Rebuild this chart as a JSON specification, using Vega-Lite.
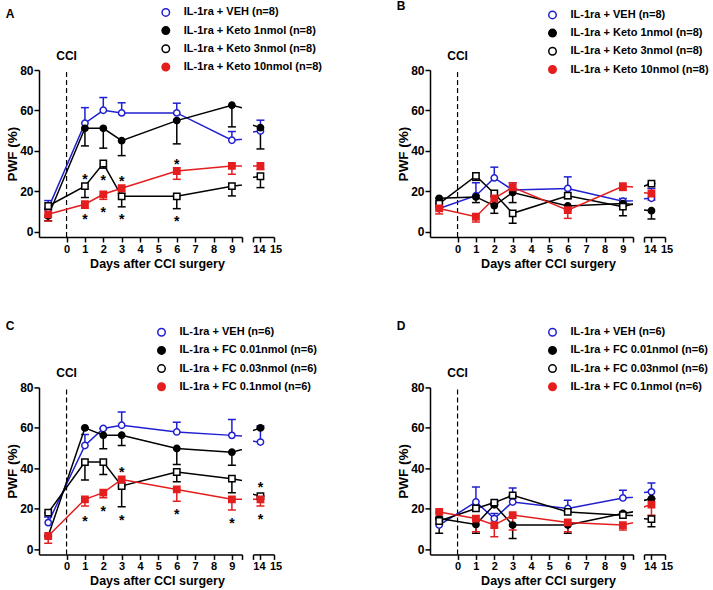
{
  "$schema": "https://vega.github.io/schema/vega-lite/v6.json",
  "background": "white",
  "padding": {"left": 5, "top": 0, "right": 2, "bottom": 2},
  "config": {
    "view": {"stroke": null},
    "font": "Liberation Sans",
    "axis": {"domainColor": "black", "domainWidth": 1.5, "tickColor": "black", "tickWidth": 1.5, "tickSize": 5, "labelFont": "Liberation Sans", "labelFontWeight": "bold", "labelFontSize": 12, "labelColor": "black", "labelPadding": 1, "titleFont": "Liberation Sans", "titleFontWeight": "bold", "titleFontSize": 13.5, "titleColor": "black", "grid": false},
    "axisX": {"titlePadding": 3, "labelFontSize": 11, "titleFontSize": 12.5},
    "axisY": {"titlePadding": 0},
    "legend": {"labelFont": "Liberation Sans", "labelFontWeight": "bold", "labelFontSize": 11, "labelColor": "black", "symbolSize": 56, "symbolStrokeWidth": 1.5, "labelOffset": 12.5, "rowPadding": 3.2, "padding": 0, "labelLimit": 300},
    "title": {"font": "Liberation Sans", "fontWeight": "bold", "fontSize": 12, "color": "black"}
  },
  "datasets": {
    "A": [
      {"series": "IL-1ra + VEH (n=8)", "day": -1, "pwf": 11.5, "err": 15.5},
      {"series": "IL-1ra + VEH (n=8)", "day": 1, "pwf": 53.7, "err": 61.4},
      {"series": "IL-1ra + VEH (n=8)", "day": 2, "pwf": 60.1, "err": 66.4},
      {"series": "IL-1ra + VEH (n=8)", "day": 3, "pwf": 58.8, "err": 63.8},
      {"series": "IL-1ra + VEH (n=8)", "day": 6, "pwf": 58.8, "err": 63.6},
      {"series": "IL-1ra + VEH (n=8)", "day": 9, "pwf": 45.3, "err": 49.6},
      {"series": "IL-1ra + VEH (n=8)", "day": 14, "pwf": 49.9, "err": 55.2},
      {"series": "IL-1ra + Keto 1nmol (n=8)", "day": -1, "pwf": 7.9, "err": 5.5},
      {"series": "IL-1ra + Keto 1nmol (n=8)", "day": 1, "pwf": 51.2, "err": 42.5},
      {"series": "IL-1ra + Keto 1nmol (n=8)", "day": 2, "pwf": 51.2, "err": 41.4},
      {"series": "IL-1ra + Keto 1nmol (n=8)", "day": 3, "pwf": 45.1, "err": 37.7},
      {"series": "IL-1ra + Keto 1nmol (n=8)", "day": 6, "pwf": 55.0, "err": 43.5},
      {"series": "IL-1ra + Keto 1nmol (n=8)", "day": 9, "pwf": 62.6, "err": 51.9},
      {"series": "IL-1ra + Keto 1nmol (n=8)", "day": 14, "pwf": 51.5, "err": 41.0},
      {"series": "IL-1ra + Keto 3nmol (n=8)", "day": -1, "pwf": 12.8, "err": 11.0},
      {"series": "IL-1ra + Keto 3nmol (n=8)", "day": 1, "pwf": 22.6, "err": 17.0},
      {"series": "IL-1ra + Keto 3nmol (n=8)", "day": 2, "pwf": 33.8, "err": 31.5},
      {"series": "IL-1ra + Keto 3nmol (n=8)", "day": 3, "pwf": 17.6, "err": 12.4},
      {"series": "IL-1ra + Keto 3nmol (n=8)", "day": 6, "pwf": 17.6, "err": 11.5},
      {"series": "IL-1ra + Keto 3nmol (n=8)", "day": 9, "pwf": 22.6, "err": 17.8},
      {"series": "IL-1ra + Keto 3nmol (n=8)", "day": 14, "pwf": 27.5, "err": 21.9},
      {"series": "IL-1ra + Keto 10nmol (n=8)", "day": -1, "pwf": 8.7, "err": 5.4},
      {"series": "IL-1ra + Keto 10nmol (n=8)", "day": 1, "pwf": 13.7, "err": 11.7},
      {"series": "IL-1ra + Keto 10nmol (n=8)", "day": 2, "pwf": 18.6, "err": 16.1},
      {"series": "IL-1ra + Keto 10nmol (n=8)", "day": 3, "pwf": 21.6, "err": 19.0},
      {"series": "IL-1ra + Keto 10nmol (n=8)", "day": 6, "pwf": 30.1, "err": 26.0},
      {"series": "IL-1ra + Keto 10nmol (n=8)", "day": 9, "pwf": 32.6, "err": 28.5},
      {"series": "IL-1ra + Keto 10nmol (n=8)", "day": 14, "pwf": 32.6, "err": 30.8}
    ],
    "B": [
      {"series": "IL-1ra + VEH (n=8)", "day": -1, "pwf": 11.6, "err": 15.0},
      {"series": "IL-1ra + VEH (n=8)", "day": 1, "pwf": 17.9, "err": 24.3},
      {"series": "IL-1ra + VEH (n=8)", "day": 2, "pwf": 26.7, "err": 32.0},
      {"series": "IL-1ra + VEH (n=8)", "day": 3, "pwf": 20.7, "err": 24.3},
      {"series": "IL-1ra + VEH (n=8)", "day": 6, "pwf": 21.5, "err": 27.2},
      {"series": "IL-1ra + VEH (n=8)", "day": 9, "pwf": 15.2, "err": 16.5},
      {"series": "IL-1ra + VEH (n=8)", "day": 14, "pwf": 16.6, "err": 21.5},
      {"series": "IL-1ra + Keto 1nmol (n=8)", "day": -1, "pwf": 16.6, "err": 16.6},
      {"series": "IL-1ra + Keto 1nmol (n=8)", "day": 1, "pwf": 17.3, "err": 14.5},
      {"series": "IL-1ra + Keto 1nmol (n=8)", "day": 2, "pwf": 13.0, "err": 9.2},
      {"series": "IL-1ra + Keto 1nmol (n=8)", "day": 3, "pwf": 19.5, "err": 14.5},
      {"series": "IL-1ra + Keto 1nmol (n=8)", "day": 6, "pwf": 12.8, "err": 11.0},
      {"series": "IL-1ra + Keto 1nmol (n=8)", "day": 9, "pwf": 14.0, "err": 13.0},
      {"series": "IL-1ra + Keto 1nmol (n=8)", "day": 14, "pwf": 10.5, "err": 6.4},
      {"series": "IL-1ra + Keto 3nmol (n=8)", "day": -1, "pwf": 14.0, "err": 14.0},
      {"series": "IL-1ra + Keto 3nmol (n=8)", "day": 1, "pwf": 27.7, "err": 25.5},
      {"series": "IL-1ra + Keto 3nmol (n=8)", "day": 2, "pwf": 19.0, "err": 17.5},
      {"series": "IL-1ra + Keto 3nmol (n=8)", "day": 3, "pwf": 9.2, "err": 4.3},
      {"series": "IL-1ra + Keto 3nmol (n=8)", "day": 6, "pwf": 17.9, "err": 16.5},
      {"series": "IL-1ra + Keto 3nmol (n=8)", "day": 9, "pwf": 12.5, "err": 8.0},
      {"series": "IL-1ra + Keto 3nmol (n=8)", "day": 14, "pwf": 23.9, "err": 23.9},
      {"series": "IL-1ra + Keto 10nmol (n=8)", "day": -1, "pwf": 11.6, "err": 8.9},
      {"series": "IL-1ra + Keto 10nmol (n=8)", "day": 1, "pwf": 7.5, "err": 4.9},
      {"series": "IL-1ra + Keto 10nmol (n=8)", "day": 2, "pwf": 16.6, "err": 14.0},
      {"series": "IL-1ra + Keto 10nmol (n=8)", "day": 3, "pwf": 22.0, "err": 24.3},
      {"series": "IL-1ra + Keto 10nmol (n=8)", "day": 6, "pwf": 10.8, "err": 6.7},
      {"series": "IL-1ra + Keto 10nmol (n=8)", "day": 9, "pwf": 22.6, "err": 20.5},
      {"series": "IL-1ra + Keto 10nmol (n=8)", "day": 14, "pwf": 19.0, "err": 15.7}
    ],
    "C": [
      {"series": "IL-1ra + VEH (n=6)", "day": -1, "pwf": 13.2, "err": 16.0},
      {"series": "IL-1ra + VEH (n=6)", "day": 1, "pwf": 51.3, "err": 56.7},
      {"series": "IL-1ra + VEH (n=6)", "day": 2, "pwf": 59.7, "err": 59.7},
      {"series": "IL-1ra + VEH (n=6)", "day": 3, "pwf": 61.3, "err": 67.9},
      {"series": "IL-1ra + VEH (n=6)", "day": 6, "pwf": 58.0, "err": 62.8},
      {"series": "IL-1ra + VEH (n=6)", "day": 9, "pwf": 56.3, "err": 64.1},
      {"series": "IL-1ra + VEH (n=6)", "day": 14, "pwf": 53.0, "err": 60.9},
      {"series": "IL-1ra + FC 0.01nmol (n=6)", "day": -1, "pwf": 6.6, "err": 6.6},
      {"series": "IL-1ra + FC 0.01nmol (n=6)", "day": 1, "pwf": 60.0, "err": 60.0},
      {"series": "IL-1ra + FC 0.01nmol (n=6)", "day": 2, "pwf": 56.4, "err": 49.7},
      {"series": "IL-1ra + FC 0.01nmol (n=6)", "day": 3, "pwf": 56.4, "err": 51.3},
      {"series": "IL-1ra + FC 0.01nmol (n=6)", "day": 6, "pwf": 49.8, "err": 41.9},
      {"series": "IL-1ra + FC 0.01nmol (n=6)", "day": 9, "pwf": 48.0, "err": 41.6},
      {"series": "IL-1ra + FC 0.01nmol (n=6)", "day": 14, "pwf": 60.0, "err": 60.0},
      {"series": "IL-1ra + FC 0.03nmol (n=6)", "day": -1, "pwf": 18.1, "err": 18.1},
      {"series": "IL-1ra + FC 0.03nmol (n=6)", "day": 1, "pwf": 43.1, "err": 34.2},
      {"series": "IL-1ra + FC 0.03nmol (n=6)", "day": 2, "pwf": 43.1, "err": 37.0},
      {"series": "IL-1ra + FC 0.03nmol (n=6)", "day": 3, "pwf": 31.3, "err": 21.1},
      {"series": "IL-1ra + FC 0.03nmol (n=6)", "day": 6, "pwf": 38.2, "err": 33.4},
      {"series": "IL-1ra + FC 0.03nmol (n=6)", "day": 9, "pwf": 34.9, "err": 28.0},
      {"series": "IL-1ra + FC 0.03nmol (n=6)", "day": 14, "pwf": 26.3, "err": 26.3},
      {"series": "IL-1ra + FC 0.1nmol (n=6)", "day": -1, "pwf": 6.6, "err": 3.0},
      {"series": "IL-1ra + FC 0.1nmol (n=6)", "day": 1, "pwf": 24.7, "err": 21.4},
      {"series": "IL-1ra + FC 0.1nmol (n=6)", "day": 2, "pwf": 28.0, "err": 25.5},
      {"series": "IL-1ra + FC 0.1nmol (n=6)", "day": 3, "pwf": 34.5, "err": 31.0},
      {"series": "IL-1ra + FC 0.1nmol (n=6)", "day": 6, "pwf": 29.6, "err": 23.8},
      {"series": "IL-1ra + FC 0.1nmol (n=6)", "day": 9, "pwf": 24.7, "err": 19.4},
      {"series": "IL-1ra + FC 0.1nmol (n=6)", "day": 14, "pwf": 24.7, "err": 21.4}
    ],
    "D": [
      {"series": "IL-1ra + VEH (n=6)", "day": -1, "pwf": 12.0, "err": 16.0},
      {"series": "IL-1ra + VEH (n=6)", "day": 1, "pwf": 23.4, "err": 30.8},
      {"series": "IL-1ra + VEH (n=6)", "day": 2, "pwf": 15.2, "err": 17.7},
      {"series": "IL-1ra + VEH (n=6)", "day": 3, "pwf": 23.4, "err": 30.3},
      {"series": "IL-1ra + VEH (n=6)", "day": 6, "pwf": 20.2, "err": 24.3},
      {"series": "IL-1ra + VEH (n=6)", "day": 9, "pwf": 25.4, "err": 29.2},
      {"series": "IL-1ra + VEH (n=6)", "day": 14, "pwf": 28.4, "err": 32.8},
      {"series": "IL-1ra + FC 0.01nmol (n=6)", "day": -1, "pwf": 15.2, "err": 15.2},
      {"series": "IL-1ra + FC 0.01nmol (n=6)", "day": 1, "pwf": 12.3, "err": 7.9},
      {"series": "IL-1ra + FC 0.01nmol (n=6)", "day": 2, "pwf": 22.0, "err": 22.0},
      {"series": "IL-1ra + FC 0.01nmol (n=6)", "day": 3, "pwf": 12.0, "err": 5.4},
      {"series": "IL-1ra + FC 0.01nmol (n=6)", "day": 6, "pwf": 12.0, "err": 7.9},
      {"series": "IL-1ra + FC 0.01nmol (n=6)", "day": 9, "pwf": 17.7, "err": 17.7},
      {"series": "IL-1ra + FC 0.01nmol (n=6)", "day": 14, "pwf": 25.0, "err": 25.0},
      {"series": "IL-1ra + FC 0.03nmol (n=6)", "day": -1, "pwf": 14.0, "err": 8.0},
      {"series": "IL-1ra + FC 0.03nmol (n=6)", "day": 1, "pwf": 20.2, "err": 20.2},
      {"series": "IL-1ra + FC 0.03nmol (n=6)", "day": 2, "pwf": 23.1, "err": 23.1},
      {"series": "IL-1ra + FC 0.03nmol (n=6)", "day": 3, "pwf": 26.7, "err": 26.7},
      {"series": "IL-1ra + FC 0.03nmol (n=6)", "day": 6, "pwf": 18.5, "err": 18.5},
      {"series": "IL-1ra + FC 0.03nmol (n=6)", "day": 9, "pwf": 16.9, "err": 16.9},
      {"series": "IL-1ra + FC 0.03nmol (n=6)", "day": 14, "pwf": 14.9, "err": 11.1},
      {"series": "IL-1ra + FC 0.1nmol (n=6)", "day": -1, "pwf": 18.5, "err": 18.5},
      {"series": "IL-1ra + FC 0.1nmol (n=6)", "day": 1, "pwf": 15.2, "err": 8.7},
      {"series": "IL-1ra + FC 0.1nmol (n=6)", "day": 2, "pwf": 12.0, "err": 6.2},
      {"series": "IL-1ra + FC 0.1nmol (n=6)", "day": 3, "pwf": 16.9, "err": 9.5},
      {"series": "IL-1ra + FC 0.1nmol (n=6)", "day": 6, "pwf": 13.3, "err": 8.7},
      {"series": "IL-1ra + FC 0.1nmol (n=6)", "day": 9, "pwf": 12.0, "err": 9.5},
      {"series": "IL-1ra + FC 0.1nmol (n=6)", "day": 14, "pwf": 22.1, "err": 16.9}
    ],
    "A_sig": [
      {"day": 1, "pwf": 27.7, "label": "*"}, {"day": 1, "pwf": 7.9, "label": "*"},
      {"day": 2, "pwf": 26.9, "label": "*"}, {"day": 2, "pwf": 11.5, "label": "*"},
      {"day": 3, "pwf": 26.4, "label": "*"}, {"day": 3, "pwf": 7.9, "label": "*"},
      {"day": 6, "pwf": 34.8, "label": "*"}, {"day": 6, "pwf": 6.8, "label": "*"}
    ],
    "C_sig": [
      {"day": 1, "pwf": 15.6, "label": "*"}, {"day": 2, "pwf": 20.6, "label": "*"},
      {"day": 3, "pwf": 39.8, "label": "*"}, {"day": 3, "pwf": 16.1, "label": "*"},
      {"day": 6, "pwf": 18.9, "label": "*"}, {"day": 9, "pwf": 14.5, "label": "*"},
      {"day": 14, "pwf": 32.1, "label": "*"}, {"day": 14, "pwf": 16.4, "label": "*"}
    ],
    "event": [{"event": "CCI", "day": 0}],
    "none": []
  },
  "bounds": "flush",
  "columns": 5,
  "spacing": {"row": 150.4, "column": 11},
  "resolve": {"scale": {"color": "independent", "shape": "independent", "fill": "independent"}, "legend": {"color": "independent", "shape": "independent", "fill": "independent"}},
  "concat": [
    {
      "width": 203, "height": 167,
      "title": {"text": "A", "anchor": "start", "frame": "bounds", "offset": -14},
      "encoding": {"x": {"field": "day", "type": "quantitative", "scale": {"domain": [-1.5, 9.55], "nice": false, "zero": false}, "axis": {"values": [0, 1, 2, 3, 4, 5, 6, 7, 8, 9, 9.55], "labelExpr": "datum.value > 9.2 ? '' : format(datum.value, 'd')", "labelOverlap": false, "labelFlush": false, "title": "Days after CCI surgery", "titleX": 118, "titleAlign": "center"}}},
      "layer": [
        {"data": {"name": "event"}, "mark": {"type": "rule", "strokeDash": [5, 3], "strokeWidth": 1.2, "color": "black"},
         "encoding": {"y": {"datum": -2.5, "type": "quantitative", "scale": {"domain": [-2.5, 80], "nice": false, "zero": false}, "axis": {"values": [0, 20, 40, 60, 80], "title": "PWF (%)"}}, "y2": {"datum": 80}}},
        {"data": {"name": "event"}, "mark": {"type": "text", "fontWeight": "bold", "fontSize": 12, "color": "black", "baseline": "middle"},
         "encoding": {"y": {"datum": 87, "type": "quantitative", "scale": {"domain": [-2.5, 80], "nice": false, "zero": false}, "axis": {"values": [0, 20, 40, 60, 80], "title": "PWF (%)"}}, "text": {"field": "event"}}},
        {"data": {"name": "A"}, "mark": {"type": "rule", "clip": true, "strokeWidth": 1.5},
         "encoding": {"y": {"field": "pwf", "type": "quantitative", "scale": {"domain": [-2.5, 80], "nice": false, "zero": false}, "axis": {"values": [0, 20, 40, 60, 80], "title": "PWF (%)"}}, "y2": {"field": "err"},
          "color": {"field": "series", "type": "nominal", "scale": {"domain": ["IL-1ra + VEH (n=8)", "IL-1ra + Keto 1nmol (n=8)", "IL-1ra + Keto 3nmol (n=8)", "IL-1ra + Keto 10nmol (n=8)"], "range": ["#2020d0", "black", "black", "#e41e1e"]}}}},
        {"data": {"name": "A"}, "mark": {"type": "rule", "clip": true, "strokeWidth": 1.5, "xOffset": -4, "x2Offset": 4},
         "encoding": {"x2": {"field": "day"}, "y": {"field": "err", "type": "quantitative", "scale": {"domain": [-2.5, 80], "nice": false, "zero": false}, "axis": {"values": [0, 20, 40, 60, 80], "title": "PWF (%)"}}, "color": {"field": "series", "type": "nominal"}}},
        {"data": {"name": "A"}, "mark": {"type": "line", "clip": true, "strokeWidth": 1.5},
         "encoding": {"y": {"field": "pwf", "type": "quantitative", "scale": {"domain": [-2.5, 80], "nice": false, "zero": false}, "axis": {"values": [0, 20, 40, 60, 80], "title": "PWF (%)"}}, "color": {"field": "series", "type": "nominal"}}},
        {"data": {"name": "A"}, "mark": {"type": "point", "clip": true, "opacity": 1, "strokeWidth": 1.5, "size": 40},
         "encoding": {"y": {"field": "pwf", "type": "quantitative", "scale": {"domain": [-2.5, 80], "nice": false, "zero": false}, "axis": {"values": [0, 20, 40, 60, 80], "title": "PWF (%)"}},
          "color": {"field": "series", "type": "nominal", "legend": {"title": null, "orient": "none", "legendX": 121.3, "legendY": -63.1, "encode": {"symbols": {"shape": {"value": {"expr": "indexOf(datum.label, 'VEH') >= 0 || indexOf(datum.label, ' 1nmol') >= 0 || indexOf(datum.label, '0.01nmol') >= 0 ? 'M-2,0H-0.8M0.8,0H2M0.8,0A0.8,0.8,0,1,1,-0.8,0A0.8,0.8,0,1,1,0.8,0Z' : 'M-2,0H-0.75M0.75,0H2M-0.75,-0.75H0.75V0.75H-0.75Z'"}}, "size": {"value": 56}, "strokeWidth": {"value": 1.5}, "opacity": {"value": 1}}}}},
          "shape": {"field": "series", "type": "nominal", "legend": null, "scale": {"domain": ["IL-1ra + Keto 10nmol (n=8)", "IL-1ra + Keto 3nmol (n=8)", "IL-1ra + Keto 1nmol (n=8)", "IL-1ra + VEH (n=8)"], "range": ["square", "square", "circle", "circle"]}},
          "fill": {"field": "series", "type": "nominal", "scale": {"domain": ["IL-1ra + VEH (n=8)", "IL-1ra + Keto 1nmol (n=8)", "IL-1ra + Keto 3nmol (n=8)", "IL-1ra + Keto 10nmol (n=8)"], "range": ["white", "black", "white", "#e41e1e"]}}}},
        {"data": {"name": "A_sig"}, "mark": {"type": "text", "clip": true, "fontSize": 14, "fontWeight": "bold", "baseline": "alphabetic", "dy": 8, "color": "black"},
         "encoding": {"y": {"field": "pwf", "type": "quantitative", "scale": {"domain": [-2.5, 80], "nice": false, "zero": false}, "axis": {"values": [0, 20, 40, 60, 80], "title": "PWF (%)"}}, "text": {"field": "label"}}}
      ]
    },
    {
      "width": 21, "height": 167,
      "encoding": {
        "x": {"field": "day", "type": "quantitative", "scale": {"domain": [13.45, 15], "nice": false, "zero": false}, "axis": {"values": [13.45, 14, 15], "labelExpr": "datum.value < 13.8 ? '' : format(datum.value, 'd')", "labelOffset": {"condition": {"test": "datum.value < 14.5", "value": -1.5}, "value": 1.5}, "labelOverlap": false, "labelFlush": false, "title": null}},
        "y": {"field": "pwf", "type": "quantitative", "scale": {"domain": [-2.5, 80], "nice": false, "zero": false}, "axis": null}
      },
      "layer": [
        {"data": {"name": "A"}, "mark": {"type": "rule", "clip": true, "strokeWidth": 1.5},
         "encoding": {"y2": {"field": "err"}, "color": {"field": "series", "type": "nominal", "legend": null, "scale": {"domain": ["IL-1ra + VEH (n=8)", "IL-1ra + Keto 1nmol (n=8)", "IL-1ra + Keto 3nmol (n=8)", "IL-1ra + Keto 10nmol (n=8)"], "range": ["#2020d0", "black", "black", "#e41e1e"]}}}},
        {"data": {"name": "A"}, "mark": {"type": "rule", "clip": true, "strokeWidth": 1.5, "xOffset": -4, "x2Offset": 4},
         "encoding": {"x2": {"field": "day"}, "y": {"field": "err", "type": "quantitative", "scale": {"domain": [-2.5, 80], "nice": false, "zero": false}, "axis": null}, "color": {"field": "series", "type": "nominal", "legend": null}}},
        {"data": {"name": "A"}, "mark": {"type": "line", "clip": true, "strokeWidth": 1.5},
         "encoding": {"color": {"field": "series", "type": "nominal", "legend": null}}},
        {"data": {"name": "A"}, "mark": {"type": "point", "clip": true, "opacity": 1, "strokeWidth": 1.5, "size": 40},
         "encoding": {
          "color": {"field": "series", "type": "nominal", "legend": null},
          "shape": {"field": "series", "type": "nominal", "legend": null, "scale": {"domain": ["IL-1ra + VEH (n=8)", "IL-1ra + Keto 1nmol (n=8)", "IL-1ra + Keto 3nmol (n=8)", "IL-1ra + Keto 10nmol (n=8)"], "range": ["circle", "circle", "square", "square"]}},
          "fill": {"field": "series", "type": "nominal", "legend": null, "scale": {"domain": ["IL-1ra + VEH (n=8)", "IL-1ra + Keto 1nmol (n=8)", "IL-1ra + Keto 3nmol (n=8)", "IL-1ra + Keto 10nmol (n=8)"], "range": ["white", "black", "white", "#e41e1e"]}}}}
      ]
    },
    {"width": 134, "height": 167, "data": {"name": "none"}, "mark": {"type": "text"}, "encoding": {}},
    {
      "width": 203, "height": 167,
      "title": {"text": "B", "anchor": "start", "frame": "bounds", "offset": -4},
      "encoding": {"x": {"field": "day", "type": "quantitative", "scale": {"domain": [-1.5, 9.55], "nice": false, "zero": false}, "axis": {"values": [0, 1, 2, 3, 4, 5, 6, 7, 8, 9, 9.55], "labelExpr": "datum.value > 9.2 ? '' : format(datum.value, 'd')", "labelOverlap": false, "labelFlush": false, "title": "Days after CCI surgery", "titleX": 118, "titleAlign": "center"}}},
      "layer": [
        {"data": {"name": "event"}, "mark": {"type": "rule", "strokeDash": [5, 3], "strokeWidth": 1.2, "color": "black"},
         "encoding": {"y": {"datum": -2.5, "type": "quantitative", "scale": {"domain": [-2.5, 80], "nice": false, "zero": false}, "axis": {"values": [0, 20, 40, 60, 80], "title": "PWF (%)"}}, "y2": {"datum": 80}}},
        {"data": {"name": "event"}, "mark": {"type": "text", "fontWeight": "bold", "fontSize": 12, "color": "black", "baseline": "middle"},
         "encoding": {"y": {"datum": 87, "type": "quantitative", "scale": {"domain": [-2.5, 80], "nice": false, "zero": false}, "axis": {"values": [0, 20, 40, 60, 80], "title": "PWF (%)"}}, "text": {"field": "event"}}},
        {"data": {"name": "B"}, "mark": {"type": "rule", "clip": true, "strokeWidth": 1.5},
         "encoding": {"y": {"field": "pwf", "type": "quantitative", "scale": {"domain": [-2.5, 80], "nice": false, "zero": false}, "axis": {"values": [0, 20, 40, 60, 80], "title": "PWF (%)"}}, "y2": {"field": "err"},
          "color": {"field": "series", "type": "nominal", "scale": {"domain": ["IL-1ra + VEH (n=8)", "IL-1ra + Keto 1nmol (n=8)", "IL-1ra + Keto 3nmol (n=8)", "IL-1ra + Keto 10nmol (n=8)"], "range": ["#2020d0", "black", "black", "#e41e1e"]}}}},
        {"data": {"name": "B"}, "mark": {"type": "rule", "clip": true, "strokeWidth": 1.5, "xOffset": -4, "x2Offset": 4},
         "encoding": {"x2": {"field": "day"}, "y": {"field": "err", "type": "quantitative", "scale": {"domain": [-2.5, 80], "nice": false, "zero": false}, "axis": {"values": [0, 20, 40, 60, 80], "title": "PWF (%)"}}, "color": {"field": "series", "type": "nominal"}}},
        {"data": {"name": "B"}, "mark": {"type": "line", "clip": true, "strokeWidth": 1.5},
         "encoding": {"y": {"field": "pwf", "type": "quantitative", "scale": {"domain": [-2.5, 80], "nice": false, "zero": false}, "axis": {"values": [0, 20, 40, 60, 80], "title": "PWF (%)"}}, "color": {"field": "series", "type": "nominal"}}},
        {"data": {"name": "B"}, "mark": {"type": "point", "clip": true, "opacity": 1, "strokeWidth": 1.5, "size": 40},
         "encoding": {"y": {"field": "pwf", "type": "quantitative", "scale": {"domain": [-2.5, 80], "nice": false, "zero": false}, "axis": {"values": [0, 20, 40, 60, 80], "title": "PWF (%)"}},
          "color": {"field": "series", "type": "nominal", "legend": {"title": null, "orient": "none", "legendX": 117, "legendY": -60.6, "encode": {"symbols": {"shape": {"value": {"expr": "indexOf(datum.label, 'VEH') >= 0 || indexOf(datum.label, ' 1nmol') >= 0 || indexOf(datum.label, '0.01nmol') >= 0 ? 'M-2,0H-0.8M0.8,0H2M0.8,0A0.8,0.8,0,1,1,-0.8,0A0.8,0.8,0,1,1,0.8,0Z' : 'M-2,0H-0.75M0.75,0H2M-0.75,-0.75H0.75V0.75H-0.75Z'"}}, "size": {"value": 56}, "strokeWidth": {"value": 1.5}, "opacity": {"value": 1}}}}},
          "shape": {"field": "series", "type": "nominal", "legend": null, "scale": {"domain": ["IL-1ra + Keto 10nmol (n=8)", "IL-1ra + Keto 3nmol (n=8)", "IL-1ra + Keto 1nmol (n=8)", "IL-1ra + VEH (n=8)"], "range": ["square", "square", "circle", "circle"]}},
          "fill": {"field": "series", "type": "nominal", "scale": {"domain": ["IL-1ra + VEH (n=8)", "IL-1ra + Keto 1nmol (n=8)", "IL-1ra + Keto 3nmol (n=8)", "IL-1ra + Keto 10nmol (n=8)"], "range": ["white", "black", "white", "#e41e1e"]}}}}
      ]
    },
    {
      "width": 21, "height": 167,
      "encoding": {
        "x": {"field": "day", "type": "quantitative", "scale": {"domain": [13.45, 15], "nice": false, "zero": false}, "axis": {"values": [13.45, 14, 15], "labelExpr": "datum.value < 13.8 ? '' : format(datum.value, 'd')", "labelOffset": {"condition": {"test": "datum.value < 14.5", "value": -1.5}, "value": 1.5}, "labelOverlap": false, "labelFlush": false, "title": null}},
        "y": {"field": "pwf", "type": "quantitative", "scale": {"domain": [-2.5, 80], "nice": false, "zero": false}, "axis": null}
      },
      "layer": [
        {"data": {"name": "B"}, "mark": {"type": "rule", "clip": true, "strokeWidth": 1.5},
         "encoding": {"y2": {"field": "err"}, "color": {"field": "series", "type": "nominal", "legend": null, "scale": {"domain": ["IL-1ra + VEH (n=8)", "IL-1ra + Keto 1nmol (n=8)", "IL-1ra + Keto 3nmol (n=8)", "IL-1ra + Keto 10nmol (n=8)"], "range": ["#2020d0", "black", "black", "#e41e1e"]}}}},
        {"data": {"name": "B"}, "mark": {"type": "rule", "clip": true, "strokeWidth": 1.5, "xOffset": -4, "x2Offset": 4},
         "encoding": {"x2": {"field": "day"}, "y": {"field": "err", "type": "quantitative", "scale": {"domain": [-2.5, 80], "nice": false, "zero": false}, "axis": null}, "color": {"field": "series", "type": "nominal", "legend": null}}},
        {"data": {"name": "B"}, "mark": {"type": "line", "clip": true, "strokeWidth": 1.5},
         "encoding": {"color": {"field": "series", "type": "nominal", "legend": null}}},
        {"data": {"name": "B"}, "mark": {"type": "point", "clip": true, "opacity": 1, "strokeWidth": 1.5, "size": 40},
         "encoding": {
          "color": {"field": "series", "type": "nominal", "legend": null},
          "shape": {"field": "series", "type": "nominal", "legend": null, "scale": {"domain": ["IL-1ra + VEH (n=8)", "IL-1ra + Keto 1nmol (n=8)", "IL-1ra + Keto 3nmol (n=8)", "IL-1ra + Keto 10nmol (n=8)"], "range": ["circle", "circle", "square", "square"]}},
          "fill": {"field": "series", "type": "nominal", "legend": null, "scale": {"domain": ["IL-1ra + VEH (n=8)", "IL-1ra + Keto 1nmol (n=8)", "IL-1ra + Keto 3nmol (n=8)", "IL-1ra + Keto 10nmol (n=8)"], "range": ["white", "black", "white", "#e41e1e"]}}}}
      ]
    },
    {
      "width": 203, "height": 167,
      "title": {"text": "C", "anchor": "start", "frame": "bounds", "offset": -5.8},
      "encoding": {"x": {"field": "day", "type": "quantitative", "scale": {"domain": [-1.5, 9.55], "nice": false, "zero": false}, "axis": {"values": [0, 1, 2, 3, 4, 5, 6, 7, 8, 9, 9.55], "labelExpr": "datum.value > 9.2 ? '' : format(datum.value, 'd')", "labelOverlap": false, "labelFlush": false, "title": "Days after CCI surgery", "titleX": 118, "titleAlign": "center"}}},
      "layer": [
        {"data": {"name": "event"}, "mark": {"type": "rule", "strokeDash": [5, 3], "strokeWidth": 1.2, "color": "black"},
         "encoding": {"y": {"datum": -2.5, "type": "quantitative", "scale": {"domain": [-2.5, 80], "nice": false, "zero": false}, "axis": {"values": [0, 20, 40, 60, 80], "title": "PWF (%)"}}, "y2": {"datum": 80}}},
        {"data": {"name": "event"}, "mark": {"type": "text", "fontWeight": "bold", "fontSize": 12, "color": "black", "baseline": "middle"},
         "encoding": {"y": {"datum": 87, "type": "quantitative", "scale": {"domain": [-2.5, 80], "nice": false, "zero": false}, "axis": {"values": [0, 20, 40, 60, 80], "title": "PWF (%)"}}, "text": {"field": "event"}}},
        {"data": {"name": "C"}, "mark": {"type": "rule", "clip": true, "strokeWidth": 1.5},
         "encoding": {"y": {"field": "pwf", "type": "quantitative", "scale": {"domain": [-2.5, 80], "nice": false, "zero": false}, "axis": {"values": [0, 20, 40, 60, 80], "title": "PWF (%)"}}, "y2": {"field": "err"},
          "color": {"field": "series", "type": "nominal", "scale": {"domain": ["IL-1ra + VEH (n=6)", "IL-1ra + FC 0.01nmol (n=6)", "IL-1ra + FC 0.03nmol (n=6)", "IL-1ra + FC 0.1nmol (n=6)"], "range": ["#2020d0", "black", "black", "#e41e1e"]}}}},
        {"data": {"name": "C"}, "mark": {"type": "rule", "clip": true, "strokeWidth": 1.5, "xOffset": -4, "x2Offset": 4},
         "encoding": {"x2": {"field": "day"}, "y": {"field": "err", "type": "quantitative", "scale": {"domain": [-2.5, 80], "nice": false, "zero": false}, "axis": {"values": [0, 20, 40, 60, 80], "title": "PWF (%)"}}, "color": {"field": "series", "type": "nominal"}}},
        {"data": {"name": "C"}, "mark": {"type": "line", "clip": true, "strokeWidth": 1.5},
         "encoding": {"y": {"field": "pwf", "type": "quantitative", "scale": {"domain": [-2.5, 80], "nice": false, "zero": false}, "axis": {"values": [0, 20, 40, 60, 80], "title": "PWF (%)"}}, "color": {"field": "series", "type": "nominal"}}},
        {"data": {"name": "C"}, "mark": {"type": "point", "clip": true, "opacity": 1, "strokeWidth": 1.5, "size": 40},
         "encoding": {"y": {"field": "pwf", "type": "quantitative", "scale": {"domain": [-2.5, 80], "nice": false, "zero": false}, "axis": {"values": [0, 20, 40, 60, 80], "title": "PWF (%)"}},
          "color": {"field": "series", "type": "nominal", "legend": {"title": null, "orient": "none", "legendX": 117, "legendY": -60.7, "encode": {"symbols": {"shape": {"value": {"expr": "indexOf(datum.label, 'VEH') >= 0 || indexOf(datum.label, ' 1nmol') >= 0 || indexOf(datum.label, '0.01nmol') >= 0 ? 'M-2,0H-0.8M0.8,0H2M0.8,0A0.8,0.8,0,1,1,-0.8,0A0.8,0.8,0,1,1,0.8,0Z' : 'M-2,0H-0.75M0.75,0H2M-0.75,-0.75H0.75V0.75H-0.75Z'"}}, "size": {"value": 56}, "strokeWidth": {"value": 1.5}, "opacity": {"value": 1}}}}},
          "shape": {"field": "series", "type": "nominal", "legend": null, "scale": {"domain": ["IL-1ra + FC 0.1nmol (n=6)", "IL-1ra + FC 0.03nmol (n=6)", "IL-1ra + FC 0.01nmol (n=6)", "IL-1ra + VEH (n=6)"], "range": ["square", "square", "circle", "circle"]}},
          "fill": {"field": "series", "type": "nominal", "scale": {"domain": ["IL-1ra + VEH (n=6)", "IL-1ra + FC 0.01nmol (n=6)", "IL-1ra + FC 0.03nmol (n=6)", "IL-1ra + FC 0.1nmol (n=6)"], "range": ["white", "black", "white", "#e41e1e"]}}}},
        {"data": {"name": "C_sig"}, "mark": {"type": "text", "clip": true, "fontSize": 14, "fontWeight": "bold", "baseline": "alphabetic", "dy": 8, "color": "black"},
         "encoding": {"y": {"field": "pwf", "type": "quantitative", "scale": {"domain": [-2.5, 80], "nice": false, "zero": false}, "axis": {"values": [0, 20, 40, 60, 80], "title": "PWF (%)"}}, "text": {"field": "label"}}}
      ]
    },
    {
      "width": 21, "height": 167,
      "encoding": {
        "x": {"field": "day", "type": "quantitative", "scale": {"domain": [13.45, 15], "nice": false, "zero": false}, "axis": {"values": [13.45, 14, 15], "labelExpr": "datum.value < 13.8 ? '' : format(datum.value, 'd')", "labelOffset": {"condition": {"test": "datum.value < 14.5", "value": -1.5}, "value": 1.5}, "labelOverlap": false, "labelFlush": false, "title": null}},
        "y": {"field": "pwf", "type": "quantitative", "scale": {"domain": [-2.5, 80], "nice": false, "zero": false}, "axis": null}
      },
      "layer": [
        {"data": {"name": "C"}, "mark": {"type": "rule", "clip": true, "strokeWidth": 1.5},
         "encoding": {"y2": {"field": "err"}, "color": {"field": "series", "type": "nominal", "legend": null, "scale": {"domain": ["IL-1ra + VEH (n=6)", "IL-1ra + FC 0.01nmol (n=6)", "IL-1ra + FC 0.03nmol (n=6)", "IL-1ra + FC 0.1nmol (n=6)"], "range": ["#2020d0", "black", "black", "#e41e1e"]}}}},
        {"data": {"name": "C"}, "mark": {"type": "rule", "clip": true, "strokeWidth": 1.5, "xOffset": -4, "x2Offset": 4},
         "encoding": {"x2": {"field": "day"}, "y": {"field": "err", "type": "quantitative", "scale": {"domain": [-2.5, 80], "nice": false, "zero": false}, "axis": null}, "color": {"field": "series", "type": "nominal", "legend": null}}},
        {"data": {"name": "C"}, "mark": {"type": "line", "clip": true, "strokeWidth": 1.5},
         "encoding": {"color": {"field": "series", "type": "nominal", "legend": null}}},
        {"data": {"name": "C"}, "mark": {"type": "point", "clip": true, "opacity": 1, "strokeWidth": 1.5, "size": 40},
         "encoding": {
          "color": {"field": "series", "type": "nominal", "legend": null},
          "shape": {"field": "series", "type": "nominal", "legend": null, "scale": {"domain": ["IL-1ra + VEH (n=6)", "IL-1ra + FC 0.01nmol (n=6)", "IL-1ra + FC 0.03nmol (n=6)", "IL-1ra + FC 0.1nmol (n=6)"], "range": ["circle", "circle", "square", "square"]}},
          "fill": {"field": "series", "type": "nominal", "legend": null, "scale": {"domain": ["IL-1ra + VEH (n=6)", "IL-1ra + FC 0.01nmol (n=6)", "IL-1ra + FC 0.03nmol (n=6)", "IL-1ra + FC 0.1nmol (n=6)"], "range": ["white", "black", "white", "#e41e1e"]}}}},
        {"data": {"name": "C_sig"}, "mark": {"type": "text", "clip": true, "fontSize": 14, "fontWeight": "bold", "baseline": "alphabetic", "dy": 8, "color": "black"},
         "encoding": {"text": {"field": "label"}}}
      ]
    },
    {"width": 134, "height": 167, "data": {"name": "none"}, "mark": {"type": "text"}, "encoding": {}},
    {
      "width": 203, "height": 167,
      "title": {"text": "D", "anchor": "start", "frame": "bounds", "offset": -5.8},
      "encoding": {"x": {"field": "day", "type": "quantitative", "scale": {"domain": [-1.5, 9.55], "nice": false, "zero": false}, "axis": {"values": [0, 1, 2, 3, 4, 5, 6, 7, 8, 9, 9.55], "labelExpr": "datum.value > 9.2 ? '' : format(datum.value, 'd')", "labelOverlap": false, "labelFlush": false, "title": "Days after CCI surgery", "titleX": 118, "titleAlign": "center"}}},
      "layer": [
        {"data": {"name": "event"}, "mark": {"type": "rule", "strokeDash": [5, 3], "strokeWidth": 1.2, "color": "black"},
         "encoding": {"y": {"datum": -2.5, "type": "quantitative", "scale": {"domain": [-2.5, 80], "nice": false, "zero": false}, "axis": {"values": [0, 20, 40, 60, 80], "title": "PWF (%)"}}, "y2": {"datum": 80}}},
        {"data": {"name": "event"}, "mark": {"type": "text", "fontWeight": "bold", "fontSize": 12, "color": "black", "baseline": "middle"},
         "encoding": {"y": {"datum": 87, "type": "quantitative", "scale": {"domain": [-2.5, 80], "nice": false, "zero": false}, "axis": {"values": [0, 20, 40, 60, 80], "title": "PWF (%)"}}, "text": {"field": "event"}}},
        {"data": {"name": "D"}, "mark": {"type": "rule", "clip": true, "strokeWidth": 1.5},
         "encoding": {"y": {"field": "pwf", "type": "quantitative", "scale": {"domain": [-2.5, 80], "nice": false, "zero": false}, "axis": {"values": [0, 20, 40, 60, 80], "title": "PWF (%)"}}, "y2": {"field": "err"},
          "color": {"field": "series", "type": "nominal", "scale": {"domain": ["IL-1ra + VEH (n=6)", "IL-1ra + FC 0.01nmol (n=6)", "IL-1ra + FC 0.03nmol (n=6)", "IL-1ra + FC 0.1nmol (n=6)"], "range": ["#2020d0", "black", "black", "#e41e1e"]}}}},
        {"data": {"name": "D"}, "mark": {"type": "rule", "clip": true, "strokeWidth": 1.5, "xOffset": -4, "x2Offset": 4},
         "encoding": {"x2": {"field": "day"}, "y": {"field": "err", "type": "quantitative", "scale": {"domain": [-2.5, 80], "nice": false, "zero": false}, "axis": {"values": [0, 20, 40, 60, 80], "title": "PWF (%)"}}, "color": {"field": "series", "type": "nominal"}}},
        {"data": {"name": "D"}, "mark": {"type": "line", "clip": true, "strokeWidth": 1.5},
         "encoding": {"y": {"field": "pwf", "type": "quantitative", "scale": {"domain": [-2.5, 80], "nice": false, "zero": false}, "axis": {"values": [0, 20, 40, 60, 80], "title": "PWF (%)"}}, "color": {"field": "series", "type": "nominal"}}},
        {"data": {"name": "D"}, "mark": {"type": "point", "clip": true, "opacity": 1, "strokeWidth": 1.5, "size": 40},
         "encoding": {"y": {"field": "pwf", "type": "quantitative", "scale": {"domain": [-2.5, 80], "nice": false, "zero": false}, "axis": {"values": [0, 20, 40, 60, 80], "title": "PWF (%)"}},
          "color": {"field": "series", "type": "nominal", "legend": {"title": null, "orient": "none", "legendX": 117, "legendY": -60.7, "encode": {"symbols": {"shape": {"value": {"expr": "indexOf(datum.label, 'VEH') >= 0 || indexOf(datum.label, ' 1nmol') >= 0 || indexOf(datum.label, '0.01nmol') >= 0 ? 'M-2,0H-0.8M0.8,0H2M0.8,0A0.8,0.8,0,1,1,-0.8,0A0.8,0.8,0,1,1,0.8,0Z' : 'M-2,0H-0.75M0.75,0H2M-0.75,-0.75H0.75V0.75H-0.75Z'"}}, "size": {"value": 56}, "strokeWidth": {"value": 1.5}, "opacity": {"value": 1}}}}},
          "shape": {"field": "series", "type": "nominal", "legend": null, "scale": {"domain": ["IL-1ra + FC 0.1nmol (n=6)", "IL-1ra + FC 0.03nmol (n=6)", "IL-1ra + FC 0.01nmol (n=6)", "IL-1ra + VEH (n=6)"], "range": ["square", "square", "circle", "circle"]}},
          "fill": {"field": "series", "type": "nominal", "scale": {"domain": ["IL-1ra + VEH (n=6)", "IL-1ra + FC 0.01nmol (n=6)", "IL-1ra + FC 0.03nmol (n=6)", "IL-1ra + FC 0.1nmol (n=6)"], "range": ["white", "black", "white", "#e41e1e"]}}}}
      ]
    },
    {
      "width": 21, "height": 167,
      "encoding": {
        "x": {"field": "day", "type": "quantitative", "scale": {"domain": [13.45, 15], "nice": false, "zero": false}, "axis": {"values": [13.45, 14, 15], "labelExpr": "datum.value < 13.8 ? '' : format(datum.value, 'd')", "labelOffset": {"condition": {"test": "datum.value < 14.5", "value": -1.5}, "value": 1.5}, "labelOverlap": false, "labelFlush": false, "title": null}},
        "y": {"field": "pwf", "type": "quantitative", "scale": {"domain": [-2.5, 80], "nice": false, "zero": false}, "axis": null}
      },
      "layer": [
        {"data": {"name": "D"}, "mark": {"type": "rule", "clip": true, "strokeWidth": 1.5},
         "encoding": {"y2": {"field": "err"}, "color": {"field": "series", "type": "nominal", "legend": null, "scale": {"domain": ["IL-1ra + VEH (n=6)", "IL-1ra + FC 0.01nmol (n=6)", "IL-1ra + FC 0.03nmol (n=6)", "IL-1ra + FC 0.1nmol (n=6)"], "range": ["#2020d0", "black", "black", "#e41e1e"]}}}},
        {"data": {"name": "D"}, "mark": {"type": "rule", "clip": true, "strokeWidth": 1.5, "xOffset": -4, "x2Offset": 4},
         "encoding": {"x2": {"field": "day"}, "y": {"field": "err", "type": "quantitative", "scale": {"domain": [-2.5, 80], "nice": false, "zero": false}, "axis": null}, "color": {"field": "series", "type": "nominal", "legend": null}}},
        {"data": {"name": "D"}, "mark": {"type": "line", "clip": true, "strokeWidth": 1.5},
         "encoding": {"color": {"field": "series", "type": "nominal", "legend": null}}},
        {"data": {"name": "D"}, "mark": {"type": "point", "clip": true, "opacity": 1, "strokeWidth": 1.5, "size": 40},
         "encoding": {
          "color": {"field": "series", "type": "nominal", "legend": null},
          "shape": {"field": "series", "type": "nominal", "legend": null, "scale": {"domain": ["IL-1ra + VEH (n=6)", "IL-1ra + FC 0.01nmol (n=6)", "IL-1ra + FC 0.03nmol (n=6)", "IL-1ra + FC 0.1nmol (n=6)"], "range": ["circle", "circle", "square", "square"]}},
          "fill": {"field": "series", "type": "nominal", "legend": null, "scale": {"domain": ["IL-1ra + VEH (n=6)", "IL-1ra + FC 0.01nmol (n=6)", "IL-1ra + FC 0.03nmol (n=6)", "IL-1ra + FC 0.1nmol (n=6)"], "range": ["white", "black", "white", "#e41e1e"]}}}}
      ]
    }
  ]
}
